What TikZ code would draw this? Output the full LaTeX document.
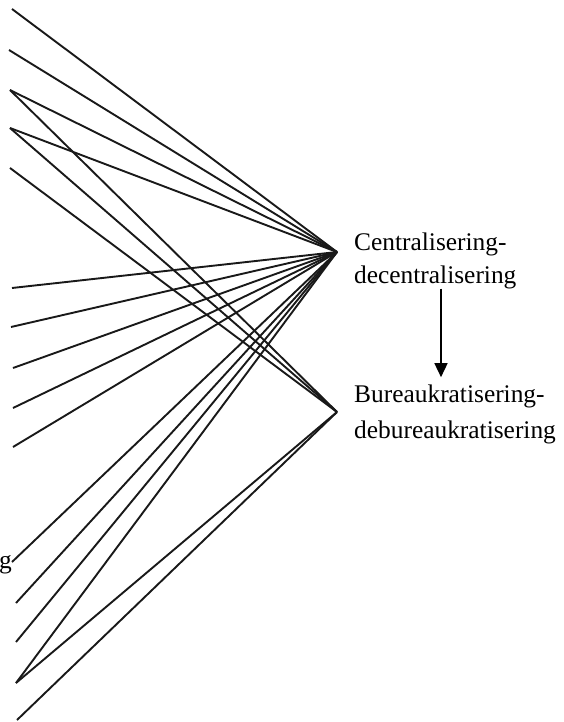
\documentclass[tikz,border=0pt]{standalone}
\usepackage{fontspec}
\setmainfont{Liberation Serif}
\usetikzlibrary{arrows.meta}

\begin{document}
\begin{tikzpicture}[
          x=1pt, y=-1pt,
          every node/.style={font=\fontsize{25.4}{30}\selectfont, inner sep=0pt},
          label/.style={anchor=base west},
          link/.style={line width=1.9pt, black!90},
          arrow/.style={-{Triangle[length=14pt,width=13pt]}, line width=1.6pt, shorten >=7pt}
        ]

          \useasboundingbox (0,0) rectangle (563,722);

          % Meeting points
          \coordinate (cen) at (337,252);
          \coordinate (bur) at (337,412);

          % Dimensions
          \node[label] (cen1) at (354,250) {Centralisering-};
          \node[label] (cen2) at (354,283) {decentralisering};
          \node[label] (bur1) at (354,402) {Bureaukratisering-};
          \node[label] (bur2) at (354,438) {debureaukratisering};
          \node[anchor=base east] (cut) at (12,568) {g};

          \draw[arrow] (cen2.south -| 441,0) -- (bur1.north -| 441,0);

          % Left ends
          \foreach \n/\x/\y in {1/12/9, 2/9/50, 3/10/90, 4/10/128, 5/10/168,
                                6/12/288, 7/11/327, 8/13/368, 9/13/408, 10/13/447,
                                11/12/562, 12/16/603, 13/16/642, 14/16/683, 15/17/720}
            \coordinate (l\n) at (\x,\y);

          \foreach \n in {1,2,3,4,6,7,8,9,10,11,12,13,14}
            \draw[link] (l\n) -- (cen);
          \foreach \n in {3,4,5,14,15}
            \draw[link] (l\n) -- (bur);

        \end{tikzpicture}
\end{document}
